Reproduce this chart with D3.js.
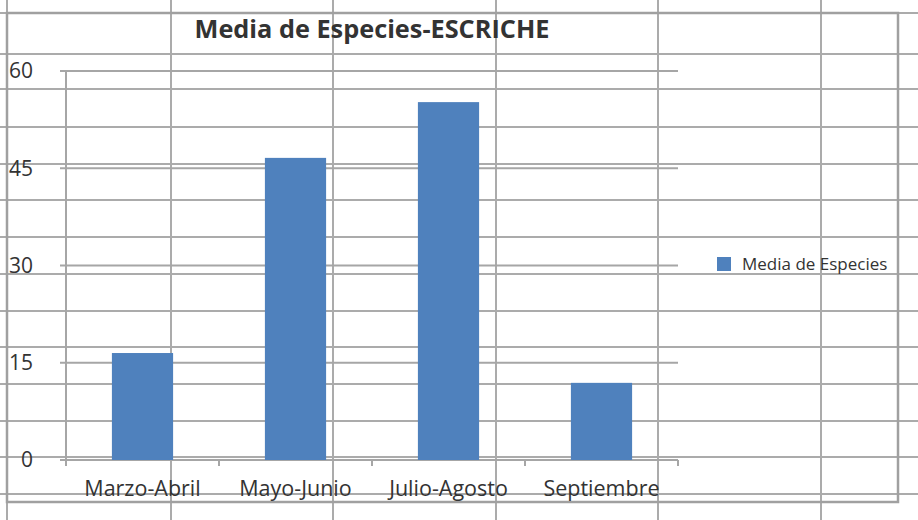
<!DOCTYPE html>
<html><head><meta charset="utf-8">
<script src="https://cdn.jsdelivr.net/npm/d3@7"></script>
<style>html,body{margin:0;padding:0;background:#fff;}svg{display:block;}</style>
</head><body>
<svg id="c" width="918" height="520"></svg>
<script>
const categories = ["Marzo-Abril", "Mayo-Junio", "Julio-Agosto", "Septiembre"];
const values = [16.5, 46.6, 55.2, 11.9];
const yTicks = [0, 15, 30, 45, 60];
const seriesName = "Media de Especies";
const title = "Media de Especies-ESCRICHE";

const W = 918, H = 520;
const svg = d3.select("#c");
const font = "'Open Sans', sans-serif";
const lineCol = "#a6a6a6";

// spreadsheet cell grid behind the (transparent) chart
const sheetCols = [7, 171, 333, 496, 658, 821];
const sheetRows = [13, 54, 89, 127, 164, 200, 237, 274, 311, 347, 384, 421, 457, 494];
const sheet = svg.append("g");
sheet.selectAll("line.v").data(sheetCols).join("line")
  .attr("x1", d => d).attr("x2", d => d).attr("y1", 0).attr("y2", H)
  .attr("stroke", "#ababab").attr("stroke-width", 2);
sheet.selectAll("line.h").data(sheetRows).join("line")
  .attr("y1", d => d).attr("y2", d => d).attr("x1", 0).attr("x2", W)
  .attr("stroke", "#ababab").attr("stroke-width", 2);

// chart border
svg.append("rect").attr("x", 7).attr("y", 13).attr("width", 891).attr("height", 489)
  .attr("fill", "none").attr("stroke", "#a0a0a0").attr("stroke-width", 2.5);

const x = d3.scaleBand().domain(categories).range([66, 678]).paddingInner(0.6).paddingOuter(0.3);
const y = d3.scaleLinear().domain([0, 60]).range([460, 71]);

// horizontal gridlines
svg.append("g").selectAll("line").data(yTicks).join("line")
  .attr("x1", 60).attr("x2", 678).attr("y1", d => y(d)).attr("y2", d => y(d))
  .attr("stroke", lineCol).attr("stroke-width", 2);

// y axis line
svg.append("line").attr("x1", 66).attr("x2", 66).attr("y1", y(60)).attr("y2", y(0) + 6)
  .attr("stroke", lineCol).attr("stroke-width", 2);

// category ticks
const step = x.step();
const tickXs = d3.range(categories.length + 1).map(i => x.range()[0] + i * step);
svg.append("g").selectAll("line").data(tickXs).join("line")
  .attr("x1", d => d).attr("x2", d => d).attr("y1", y(0)).attr("y2", y(0) + 6)
  .attr("stroke", lineCol).attr("stroke-width", 2);

// bars
svg.append("g").selectAll("rect").data(values).join("rect")
  .attr("x", (d, i) => x(categories[i]))
  .attr("width", x.bandwidth())
  .attr("y", d => y(d))
  .attr("height", d => y(0) - y(d))
  .attr("fill", "#4f81bd");

// y labels
svg.append("g").selectAll("text").data(yTicks).join("text")
  .attr("x", 33).attr("y", d => y(d)).attr("dy", "0.35em")
  .attr("text-anchor", "end").attr("font-family", font).attr("font-size", 21)
  .attr("fill", "#333").text(d => d);

// x labels
svg.append("g").selectAll("text").data(categories).join("text")
  .attr("x", d => x(d) + x.bandwidth() / 2).attr("y", 496)
  .attr("text-anchor", "middle").attr("font-family", font).attr("font-size", 21.5)
  .attr("fill", "#333").text(d => d);

// title
svg.append("text").attr("x", 372).attr("y", 38).attr("text-anchor", "middle")
  .attr("font-family", font).attr("font-weight", "bold").attr("font-size", 25.3)
  .attr("fill", "#333").text(title);

// legend
svg.append("rect").attr("x", 717).attr("y", 257).attr("width", 14).attr("height", 14).attr("fill", "#4f81bd");
svg.append("text").attr("x", 742).attr("y", 269.5).attr("font-family", font).attr("font-size", 17)
  .attr("fill", "#333").text(seriesName);
</script>
</body></html>
